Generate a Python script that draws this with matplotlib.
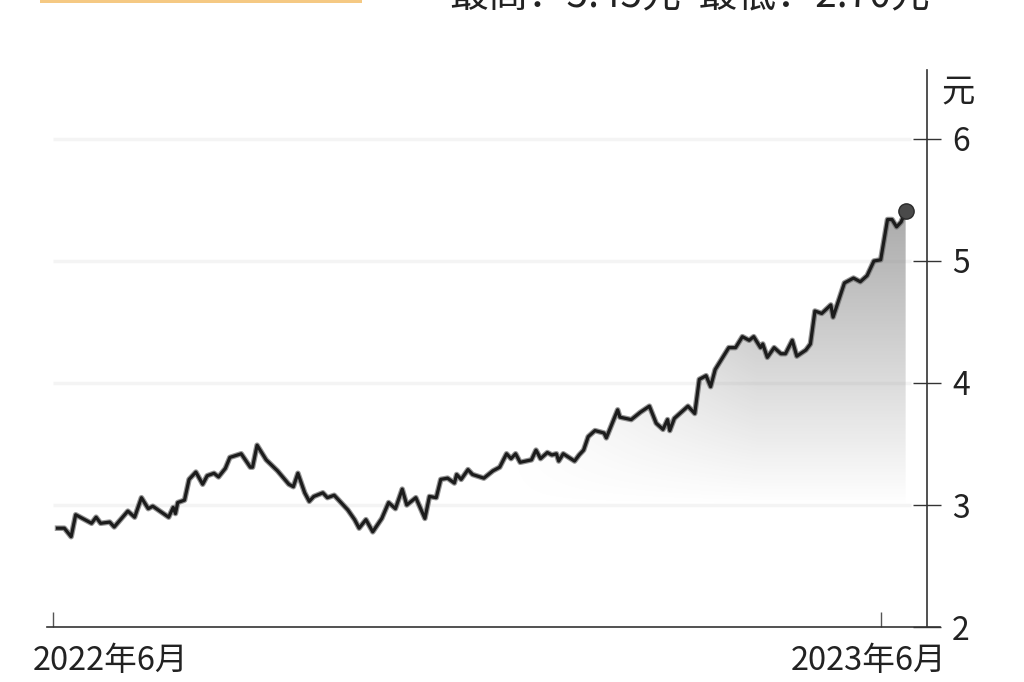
import numpy as np
import matplotlib
matplotlib.use("Agg")
import matplotlib.pyplot as plt
import matplotlib.transforms as mtransforms
from matplotlib.patches import Rectangle, Polygon

plt.rcParams['font.family'] = ['Noto Sans CJK SC', 'DejaVu Sans']

# ---- data ----
days = [2, 5, 8, 10, 13, 17, 19, 21, 25, 27, 33, 36, 39, 42, 44, 51, 53, 54, 55, 58,
        60, 63, 66, 68, 71, 73, 76, 78, 83, 87, 88, 90, 94, 99, 104, 106, 108, 111, 113, 115,
        119, 121, 124, 130, 133, 135, 138, 141, 145, 148, 151, 154, 156, 160, 164, 166, 169, 171, 174, 177,
        178, 180, 183, 185, 190, 194, 197, 200, 202, 204, 206, 211, 213, 215, 218, 220, 222, 223, 225, 230,
        232, 234, 236, 239, 243, 244, 249, 250, 255, 259, 263, 266, 269, 271, 272, 274, 280, 283, 285, 288,
        290, 292, 298, 301, 304, 307, 309, 312, 313, 315, 318, 321, 323, 326, 328, 332, 334, 336, 339, 343,
        344, 349, 353, 356, 359, 362, 365, 368, 370, 372, 374, 376]
prices = [2.81, 2.81, 2.74, 2.92, 2.89, 2.85, 2.90, 2.85, 2.86, 2.82, 2.95, 2.90, 3.06, 2.97, 2.99, 2.90, 2.98, 2.93, 3.02, 3.04,
          3.21, 3.27, 3.17, 3.24, 3.26, 3.23, 3.30, 3.39, 3.42, 3.31, 3.31, 3.49, 3.37, 3.28, 3.17, 3.15, 3.26, 3.10, 3.03, 3.07,
          3.10, 3.06, 3.08, 2.96, 2.88, 2.81, 2.88, 2.78, 2.89, 3.02, 2.97, 3.13, 3.00, 3.06, 2.89, 3.07, 3.06, 3.21, 3.22, 3.18,
          3.25, 3.21, 3.29, 3.25, 3.22, 3.28, 3.31, 3.42, 3.38, 3.42, 3.35, 3.37, 3.45, 3.38, 3.43, 3.41, 3.42, 3.36, 3.42, 3.36,
          3.41, 3.45, 3.56, 3.61, 3.59, 3.55, 3.78, 3.72, 3.70, 3.76, 3.81, 3.67, 3.62, 3.70, 3.61, 3.71, 3.81, 3.75, 4.03, 4.06,
          3.97, 4.11, 4.29, 4.29, 4.38, 4.35, 4.38, 4.29, 4.32, 4.21, 4.29, 4.24, 4.24, 4.35, 4.22, 4.27, 4.32, 4.59, 4.57, 4.64,
          4.54, 4.82, 4.86, 4.83, 4.88, 5.00, 5.01, 5.34, 5.34, 5.28, 5.32, 5.41]

x_tick_pos = [0, 365]
x_tick_labels = ["2022年6月", "2023年6月"]
y_ticks = [2, 3, 4, 5, 6]
y_unit = "元"
header_text = "最高：5.45元  最低：2.70元"

W, H = 1024, 682
fig = plt.figure(figsize=(W / 100, H / 100), dpi=100)
fig.patch.set_facecolor("white")

# axes in pixel geometry
ax_left, ax_right, ax_top, ax_bottom = 47, 940, 70, 627
ax = fig.add_axes([ax_left / W, 1 - ax_bottom / H, (ax_right - ax_left) / W, (ax_bottom - ax_top) / H])

px_per_day = (880.7 - 53) / 365.0
xmin = -(53 - ax_left) / px_per_day
xmax = 365 + (ax_right - 880.7) / px_per_day
ax.set_xlim(xmin, xmax)
ax.set_ylim(2, 2 + (ax_bottom - ax_top) / 122.0)

spine_x = 365 + (927 - 880.7) / px_per_day
grid_end = 365 + (911 - 880.7) / px_per_day

# gridlines
for v in y_ticks[1:]:
    ax.hlines(v, xmin + 2.5, grid_end, color="#f4f4f4", lw=2.5, zorder=1)

d = np.array(days, dtype=float)
p = np.array(prices, dtype=float)

# gradient fill under line
ny, nx = 300, 400
gx = np.linspace(d[0], d[-1], nx)
gy = np.linspace(2, 6, ny)
GX, GY = np.meshgrid(gx, gy)
alpha = np.clip((GY - 3.0) / 2.4, 0, 1) * 0.75 * np.clip((GX - 200) / 110, 0, 1)
img = np.zeros((ny, nx, 4))
img[..., :3] = 0.56
img[..., 3] = alpha
im = ax.imshow(img, extent=[d[0], d[-1], 2, 6], origin="lower", aspect="auto", zorder=2,
               interpolation="bilinear")
poly = Polygon(np.column_stack([np.r_[d, d[-1], d[0]], np.r_[p, 2, 2]]), closed=True,
               facecolor="none", edgecolor="none", transform=ax.transData)
ax.add_patch(poly)
im.set_clip_path(poly)

# line
ax.plot(d, p, color="#6a6a6a", lw=4.0, alpha=0.7, zorder=3, solid_joinstyle="round")
ax.plot(d, p, color="#1c1c1c", lw=2.3, zorder=4, solid_joinstyle="round")
ax.plot([d[-1]], [p[-1]], "o", ms=11, color="#4a4a4a", mec="#2a2a2a", mew=1, zorder=5)

# spines
for s in ["left", "top"]:
    ax.spines[s].set_visible(False)
ax.spines["bottom"].set_color("#333333")
ax.spines["bottom"].set_linewidth(1.2)
ax.spines["right"].set_color("#333333")
ax.spines["right"].set_linewidth(1.2)
ax.spines["right"].set_position(("data", spine_x))

ax.yaxis.tick_right()
ax.set_yticks(y_ticks)
ax.set_yticklabels([str(t) for t in y_ticks])
ax.tick_params(axis="y", direction="inout", length=20, width=1, color="#333333",
               labelsize=23, pad=8, labelcolor="#222222")

ax.set_xticks(x_tick_pos)
ax.set_xticklabels(x_tick_labels)
ax.tick_params(axis="x", direction="in", length=11, width=1, color="#555555",
               labelsize=23.5, pad=13, labelcolor="#222222")
offsets = [58, -12]
for lbl, off in zip(ax.get_xticklabels(), offsets):
    lbl.set_transform(lbl.get_transform() + mtransforms.ScaledTranslation(off / 100, 0, fig.dpi_scale_trans))

ax.patch.set_alpha(0)

fig.text(958 / W, 1 - 92 / H, y_unit, ha="center", va="center", fontsize=24, color="#222222")

# header (cropped at top of picture)
fig.text(450 / W, 1 - 7 / H, header_text, ha="left", va="baseline", fontsize=28, color="#222222")
fig.patches.append(Rectangle((40 / W, 1 - 3 / H), 322 / W, 3 / H, transform=fig.transFigure,
                             facecolor="#f5c983", edgecolor="none"))

fig.savefig("out.png", dpi=100)
